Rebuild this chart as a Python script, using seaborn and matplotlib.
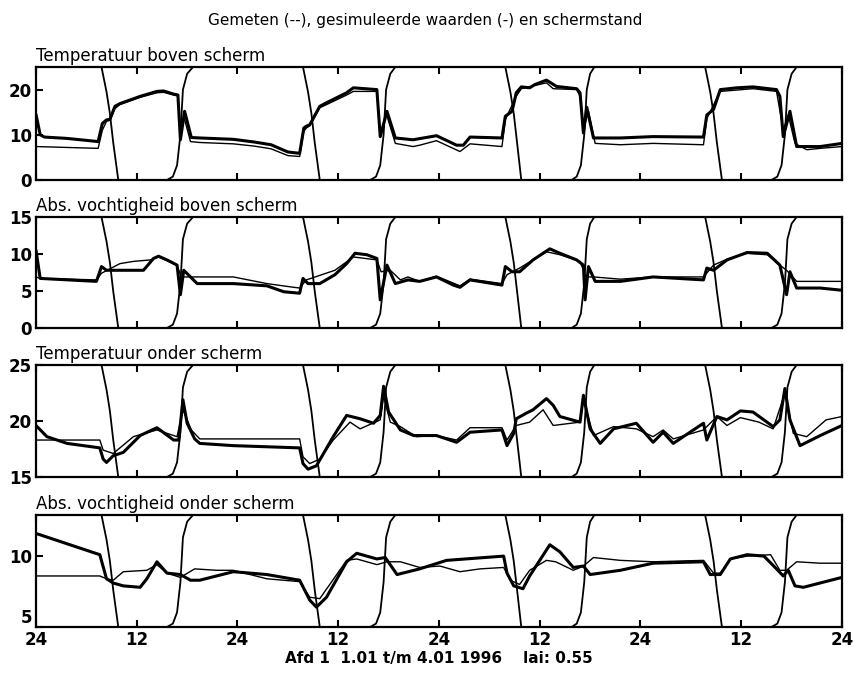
import numpy as np
import pandas as pd
import matplotlib
matplotlib.use("Agg")
import matplotlib.pyplot as plt
import seaborn as sns

# ---------------- data (hours since 1.01 0:00) ----------------
xtick_pos = [0, 12, 24, 36, 48, 60, 72, 84, 96]
xtick_lab = ["24", "12", "24", "12", "24", "12", "24", "12", "24"]

titles = ["Temperatuur boven scherm", "Abs. vochtigheid boven scherm",
          "Temperatuur onder scherm", "Abs. vochtigheid onder scherm"]
ylims = [(0, 25), (0, 15), (15, 25), (5, 12.9)]
yticks = [[0, 10, 20], [0, 5, 10, 15], [15, 20, 25], [5, 10]]

# schermstand (0 = open, 1 = dicht)
scherm_t = [0, 7.8, 8.4, 8.8, 9.2, 9.8, 15.6, 16.3, 16.8, 17.2, 17.5, 18.0, 18.7,
            31.8, 32.4, 32.8, 33.2, 33.8, 39.8, 40.5, 41.0, 41.4, 41.7, 42.2, 42.8,
            55.9, 56.5, 56.9, 57.3, 57.8, 63.8, 64.4, 64.9, 65.3, 65.6, 66.0, 66.5,
            79.7, 80.3, 80.7, 81.1, 81.7, 87.6, 88.3, 88.8, 89.2, 89.5, 90.0, 90.6, 96]
scherm_v = [1, 1, 0.78, 0.59, 0.33, 0, 0, 0.03, 0.13, 0.4, 0.8, 0.94, 1,
            1, 0.78, 0.59, 0.33, 0, 0, 0.03, 0.13, 0.4, 0.8, 0.94, 1,
            1, 0.78, 0.59, 0.33, 0, 0, 0.03, 0.13, 0.4, 0.8, 0.94, 1,
            1, 0.78, 0.59, 0.33, 0, 0, 0.03, 0.13, 0.4, 0.8, 0.94, 1, 1]

# Temperatuur boven scherm
t1_sim = [0, 0.5, 1.0, 3.7, 7.4, 7.9, 8.4, 8.8, 9.4, 10.0, 12.4, 14.4, 15.2, 16.4, 16.9,
          17.2, 17.7, 18.5, 19.5, 23.5, 26, 28, 30, 31.4, 31.9, 32.2, 32.6, 33.8, 34.4,
          37.0, 37.8, 40.6, 41.0, 41.8, 42.8, 44.9, 47.7, 50.1, 50.9, 51.7, 55.5,
          55.9, 56.7, 57.2, 57.8, 58.8, 59.4, 60.8, 62.0, 64.4, 64.8, 65.2, 65.6, 66.4,
          69.6, 73.5, 79.5, 79.9, 80.7, 81.5, 83.5, 85.4, 88.2, 88.6, 89.0, 89.8, 90.6,
          93.4, 96]
y1_sim = [14.5, 10.0, 9.5, 9.2, 8.5, 12.5, 13.3, 13.4, 16.3, 16.9, 18.5, 19.6, 19.7, 19.0, 18.8,
          8.9, 15.2, 9.4, 9.3, 9.0, 8.4, 7.8, 6.2, 5.9, 11.5, 11.9, 12.2, 16.3, 16.9,
          19.3, 20.4, 20.0, 9.6, 15.2, 9.3, 8.9, 9.8, 7.7, 7.7, 9.5, 9.3,
          14.1, 15.2, 19.3, 20.6, 20.4, 21.1, 22.1, 20.7, 20.2, 19.3, 10.4, 16.1, 9.3,
          9.3, 9.6, 9.5, 14.4, 15.6, 20.0, 20.4, 20.6, 20.0, 18.5, 9.6, 15.2, 7.4,
          7.4, 8.1]
t1_mea = [0, 7.4, 7.9, 8.4, 8.8, 9.4, 10.0, 12.4, 14.4, 15.2, 16.4, 16.9,
          17.2, 17.6, 18.4, 19.5, 23.5, 26, 28, 30, 31.4, 31.9, 32.2, 32.6, 33.8, 34.4,
          37.0, 37.8, 40.6, 41.0, 41.7, 42.8, 44.9, 45.7, 47.7, 50.5, 51.7, 55.5,
          55.9, 57.2, 57.8, 60.8, 61.6, 64.4, 64.8, 65.2, 65.8, 66.6, 69.6, 73.5, 79.5,
          79.9, 81.5, 85.4, 88.2, 89.0, 89.6, 90.4, 91.8, 93.4, 96]
y1_mea = [7.4, 7.0, 11.0, 13.0, 13.2, 15.8, 16.7, 18.3, 19.3, 19.4, 18.8, 18.6,
          8.9, 14.1, 8.5, 8.3, 8.0, 7.5, 6.9, 5.4, 5.2, 10.8, 11.5, 12.0, 16.0, 16.5,
          18.8, 19.6, 19.6, 9.6, 14.8, 8.1, 7.4, 7.7, 8.7, 6.3, 8.0, 7.4,
          13.4, 18.5, 20.2, 21.5, 20.2, 20.0, 18.5, 11.1, 15.2, 8.1, 7.8, 8.1, 7.8,
          13.6, 19.6, 20.2, 19.6, 11.1, 14.4, 8.1, 6.7, 7.0, 7.4]

# Abs. vochtigheid boven scherm
t2_sim = [0, 0.5, 7.2, 7.8, 8.4, 12.8, 14.0, 14.6, 15.6, 16.8, 17.2, 17.6, 18.4, 19.2,
          23.5, 27.5, 29.5, 31.4, 31.8, 32.4, 33.8, 35.6, 37.0, 38.0, 39.4, 40.6, 41.0,
          41.8, 42.8, 44.3, 45.7, 47.7, 49.7, 50.5, 51.7, 55.5, 55.9, 56.7, 57.6, 59.2,
          61.2, 62.4, 64.4, 65.2, 65.4, 65.8, 66.6, 69.6, 73.5, 79.5, 79.9, 80.7, 82.3,
          84.7, 87.1, 88.6, 89.4, 89.8, 90.6, 93.4, 96]
y2_sim = [10.5, 6.7, 6.3, 8.3, 7.8, 7.8, 9.4, 9.7, 9.2, 8.5, 4.5, 7.8, 6.9, 6.0,
          6.0, 5.7, 4.9, 4.7, 6.7, 6.0, 6.0, 7.2, 8.7, 10.1, 9.9, 9.4, 3.8,
          8.5, 6.0, 6.5, 6.3, 6.9, 5.8, 5.5, 6.5, 5.8, 8.3, 7.6, 7.6, 9.2,
          10.7, 10.1, 9.2, 8.5, 3.8, 8.3, 6.3, 6.3, 6.9, 6.5, 8.1, 7.8, 9.2,
          10.2, 10.1, 8.5, 4.5, 7.6, 5.4, 5.4, 5.1]
t2_mea = [0, 0.5, 7.2, 7.8, 10.0, 11.6, 13.6, 14.6, 16.8, 17.3, 18.9, 23.5, 27.5, 30.7,
          31.4, 32.2, 35.6, 37.8, 40.6, 41.1, 42.2, 43.4, 44.3, 45.7, 47.7, 50.5,
          51.7, 55.5, 56.1, 57.6, 60.8, 62.4, 64.8, 65.5, 66.4, 69.6, 73.5, 79.5,
          80.7, 82.3, 84.7, 87.1, 88.6, 89.4, 90.6, 93.4, 96]
y2_mea = [6.9, 6.7, 6.5, 7.4, 8.7, 9.0, 9.2, 9.6, 8.5, 6.9, 6.9, 6.9, 6.0, 5.5,
          5.4, 6.5, 7.8, 9.6, 9.2, 7.6, 7.8, 6.5, 6.9, 6.3, 7.0, 5.7,
          6.6, 6.0, 7.2, 8.1, 10.3, 9.9, 9.0, 6.9, 6.9, 6.6, 6.9, 6.9,
          8.5, 9.3, 10.1, 9.9, 8.5, 7.8, 6.3, 6.3, 6.3]

# Temperatuur onder scherm
t3_sim = [0, 1.3, 3.7, 7.6, 8.0, 8.4, 9.2, 10.4, 12.4, 14.4, 16.4, 17.0, 17.5, 18.0,
          18.9, 19.5, 23.5, 31.4, 31.8, 32.4, 33.4, 35.4, 37.0, 38.6, 40.2, 41.0, 41.4,
          42.0, 43.4, 45.0, 47.7, 50.1, 51.7, 55.5, 56.1, 56.9, 57.2, 58.4, 59.2, 60.8,
          61.6, 62.4, 64.8, 65.2, 66.0, 67.2, 68.8, 71.5, 73.5, 74.7, 75.9, 79.5, 79.9,
          81.1, 82.3, 83.9, 85.4, 87.8, 88.6, 89.2, 89.8, 91.0, 93.4, 96]
y3_sim = [19.6, 18.6, 18.0, 17.6, 16.6, 16.3, 16.9, 17.2, 18.7, 19.4, 18.3, 18.3, 21.9, 19.8,
          18.4, 18.0, 17.8, 17.6, 16.2, 15.7, 16.0, 18.6, 20.5, 20.2, 19.8, 20.5, 23.1,
          20.8, 19.2, 18.7, 18.7, 18.1, 19.0, 19.2, 17.8, 18.9, 20.2, 20.7, 21.0, 22.0,
          21.4, 20.4, 19.9, 22.3, 19.3, 18.0, 19.3, 19.8, 18.1, 19.0, 18.0, 19.8, 18.3,
          20.4, 20.1, 20.9, 20.8, 19.5, 20.1, 22.9, 20.1, 17.8, 18.7, 19.6]
t3_mea = [0, 7.6, 8.0, 9.2, 11.6, 14.4, 16.8, 17.5, 18.5, 19.5, 31.4, 31.8, 32.6, 33.8,
          35.4, 37.4, 38.6, 41.0, 41.4, 42.2, 43.4, 45.3, 47.7, 50.1, 51.7, 55.5, 56.1,
          57.2, 58.8, 60.4, 61.6, 64.8, 65.2, 66.4, 68.8, 71.5, 73.5, 74.7, 75.9, 79.5,
          81.1, 82.3, 83.9, 86.1, 87.8, 89.2, 90.2, 91.8, 94.1, 96]
y3_mea = [18.3, 18.3, 17.4, 17.1, 18.6, 19.2, 18.6, 21.0, 19.2, 18.4, 18.4, 16.8, 16.2, 16.6,
          18.3, 19.9, 19.3, 20.1, 22.2, 19.9, 19.5, 18.6, 18.7, 18.3, 19.4, 19.4, 18.3,
          19.6, 19.9, 21.0, 19.6, 19.9, 21.9, 18.7, 19.5, 19.3, 18.6, 19.2, 18.4, 19.2,
          20.4, 19.6, 20.3, 19.9, 19.3, 22.5, 18.9, 18.6, 20.1, 20.4]

# Abs. vochtigheid onder scherm
t4_sim = [0, 7.6, 8.4, 9.2, 10.4, 12.4, 13.2, 14.4, 15.6, 17.2, 18.4, 19.5, 23.5, 27.5,
          31.4, 32.6, 33.4, 34.6, 37.0, 38.2, 40.6, 41.6, 43.0, 45.7, 48.9, 55.7, 56.1,
          56.9, 58.0, 58.8, 61.2, 62.4, 64.0, 65.2, 66.0, 69.6, 73.5, 79.5, 80.3, 81.5,
          82.7, 84.7, 86.7, 88.2, 89.0, 89.6, 90.4, 91.4, 96]
y4_sim = [11.6, 10.1, 8.4, 8.1, 7.9, 7.8, 8.4, 9.6, 8.8, 8.7, 8.3, 8.3, 8.9, 8.7,
          8.3, 6.9, 6.4, 7.1, 9.6, 10.2, 9.8, 9.9, 8.7, 9.1, 9.7, 10.0, 8.8,
          7.9, 7.7, 8.6, 10.8, 10.3, 9.2, 9.3, 8.7, 9.0, 9.5, 9.6, 8.7, 8.7,
          9.8, 10.1, 10.0, 9.1, 8.6, 9.0, 7.9, 7.8, 8.5]
t4_mea = [0, 7.6, 8.4, 9.2, 10.4, 13.2, 14.4, 15.6, 17.2, 18.9, 21.5, 23.5, 27.5, 31.4,
          32.6, 33.8, 37.0, 38.2, 40.6, 41.8, 43.4, 45.7, 48.1, 50.5, 52.9, 55.7, 56.5,
          57.6, 58.8, 60.8, 61.9, 64.0, 65.2, 66.4, 69.6, 73.5, 79.5, 80.7, 81.5, 82.7,
          84.7, 87.5, 88.6, 89.4, 90.6, 93.4, 96]
y4_mea = [8.6, 8.6, 8.4, 8.3, 8.9, 9.0, 9.4, 8.8, 8.5, 9.1, 9.0, 9.0, 8.4, 8.2,
          7.1, 7.0, 9.7, 9.8, 9.4, 9.6, 9.6, 9.2, 9.3, 8.9, 9.1, 9.2, 8.3,
          8.0, 9.0, 9.7, 9.6, 9.0, 9.3, 9.9, 9.7, 9.6, 9.7, 8.8, 8.8, 9.8,
          10.0, 10.1, 9.0, 9.0, 9.6, 9.5, 9.5]

series = [(t1_sim, y1_sim, t1_mea, y1_mea), (t2_sim, y2_sim, t2_mea, y2_mea),
          (t3_sim, y3_sim, t3_mea, y3_mea), (t4_sim, y4_sim, t4_mea, y4_mea)]

# ---------------- plot ----------------
sns.set_style("ticks")
plt.rcParams["font.family"] = ["DejaVu Sans"]
plt.rcParams["text.color"] = "black"
plt.rcParams["axes.labelcolor"] = "black"
plt.rcParams["xtick.color"] = "black"
plt.rcParams["ytick.color"] = "black"

fig = plt.figure(figsize=(8.54, 6.76), dpi=100)
left, right = 36 / 854, 842 / 854
tops = [67, 217, 365, 515]
bots = [180, 328, 477, 627]

df_scherm = pd.DataFrame({"t": scherm_t, "v": scherm_v})

for i in range(4):
    y0 = 1 - bots[i] / 676
    h = (bots[i] - tops[i]) / 676
    ax = fig.add_axes([left, y0, right - left, h])
    ts, ys, tm, ym = series[i]
    df_s = pd.DataFrame({"t": ts, "v": ys})
    df_m = pd.DataFrame({"t": tm, "v": ym})
    sns.lineplot(data=df_m, x="t", y="v", ax=ax, color="black", lw=1.0,
                 estimator=None, sort=False)
    sns.lineplot(data=df_s, x="t", y="v", ax=ax, color="black", lw=2.2,
                 estimator=None, sort=False)
    ax.set_xlim(0, 96)
    ax.set_ylim(*ylims[i])
    ax.set_yticks(yticks[i])
    ylabs = ax.set_yticklabels([str(v) for v in yticks[i]], fontsize=12,
                               fontweight="bold", color="black")
    ax.set_xticks(xtick_pos)
    if i == 3:
        ax.set_xticklabels(xtick_lab, fontsize=12, fontweight="bold", color="black")
        ax.set_xlabel("Afd 1  1.01 t/m 4.01 1996    lai: 0.55", fontsize=11,
                      fontweight="bold", labelpad=1, color="black")
        ylabs[0].set_va("bottom")
    else:
        ax.set_xticklabels([])
        ax.set_xlabel("")
    ax.set_ylabel("")
    ax.tick_params(direction="in", length=5, width=1.5, top=True, right=True,
                   pad=3, colors="black")
    for sp in ax.spines.values():
        sp.set_visible(True)
        sp.set_linewidth(1.6)
        sp.set_color("black")
    ax.set_title(titles[i], loc="left", fontsize=12, pad=4, color="black")

    ax2 = ax.twinx()
    sns.lineplot(data=df_scherm, x="t", y="v", ax=ax2, color="black", lw=1.3,
                 estimator=None, sort=False)
    ax2.set_ylim(0, 1)
    ax2.set_xlim(0, 96)
    ax2.set_yticks([])
    ax2.set_ylabel("")
    ax2.set_xlabel("")
    for sp in ax2.spines.values():
        sp.set_visible(False)

fig.text(425 / 854, 1 - 20 / 676,
         "Gemeten (--), gesimuleerde waarden (-) en schermstand",
         ha="center", va="center", fontsize=11, color="black")

fig.savefig("out.png", dpi=100)
